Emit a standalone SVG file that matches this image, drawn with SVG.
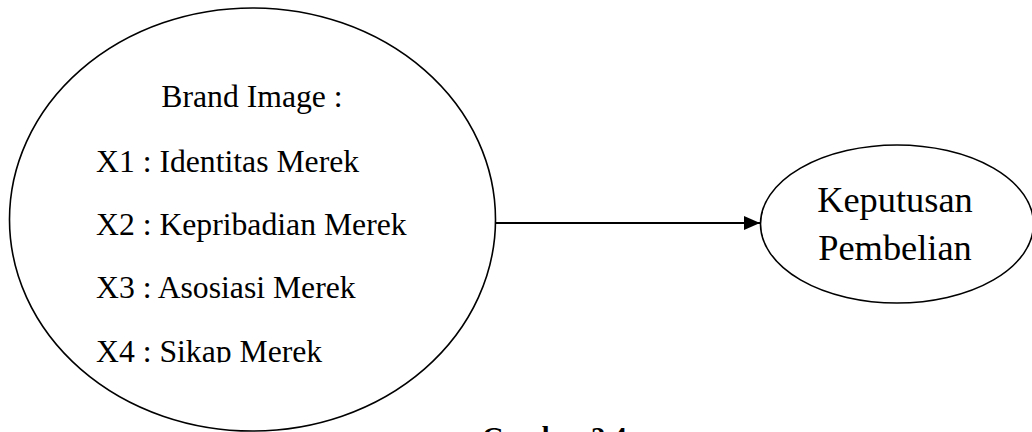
<svg xmlns="http://www.w3.org/2000/svg" width="1032" height="432" viewBox="0 0 1032 432">
<style>
.node{fill:none;stroke:#000;stroke-width:1.6}
.t{font-family:"Liberation Serif","Times New Roman",serif;fill:#000}
.edge{stroke:#000;stroke-width:2;fill:none}
</style>
<defs>
<marker id="arr" markerUnits="userSpaceOnUse" markerWidth="16" markerHeight="14" refX="16" refY="7" orient="auto">
<path d="M0,0 L16,7 L0,14 Z" fill="#000"/>
</marker>
<clipPath id="clipText"><rect x="0" y="0" width="1032" height="362.5"/></clipPath>
</defs>
<rect width="1032" height="432" fill="#fff"/>
<g id="brand-image">
<ellipse class="node" cx="252.5" cy="219.5" rx="243" ry="211.5"/>
<g clip-path="url(#clipText)">
<text class="t" x="252" y="107" font-size="31.7" text-anchor="middle">Brand Image :</text>
<text class="t" x="96" y="172" font-size="31.7">X1 : Identitas Merek</text>
<text class="t" x="96" y="235" font-size="31.7">X2 : Kepribadian Merek</text>
<text class="t" x="96" y="298" font-size="31.7">X3 : Asosiasi Merek</text>
<text class="t" x="96" y="362" font-size="31.7">X4 : Sikap Merek</text>
</g>
</g>
<g id="keputusan">
<ellipse class="node" cx="897" cy="224" rx="136.5" ry="79"/>
<text class="t" x="895" y="212" font-size="36.4" text-anchor="middle">Keputusan</text>
<text class="t" x="895" y="260" font-size="36.4" text-anchor="middle">Pembelian</text>
</g>
<g id="connectors">
<line class="edge" x1="496" y1="223" x2="760" y2="223" marker-end="url(#arr)"/>
</g>
<text class="t" x="482" y="447" font-size="28.4" font-weight="bold">Gambar 2.4</text>
</svg>
